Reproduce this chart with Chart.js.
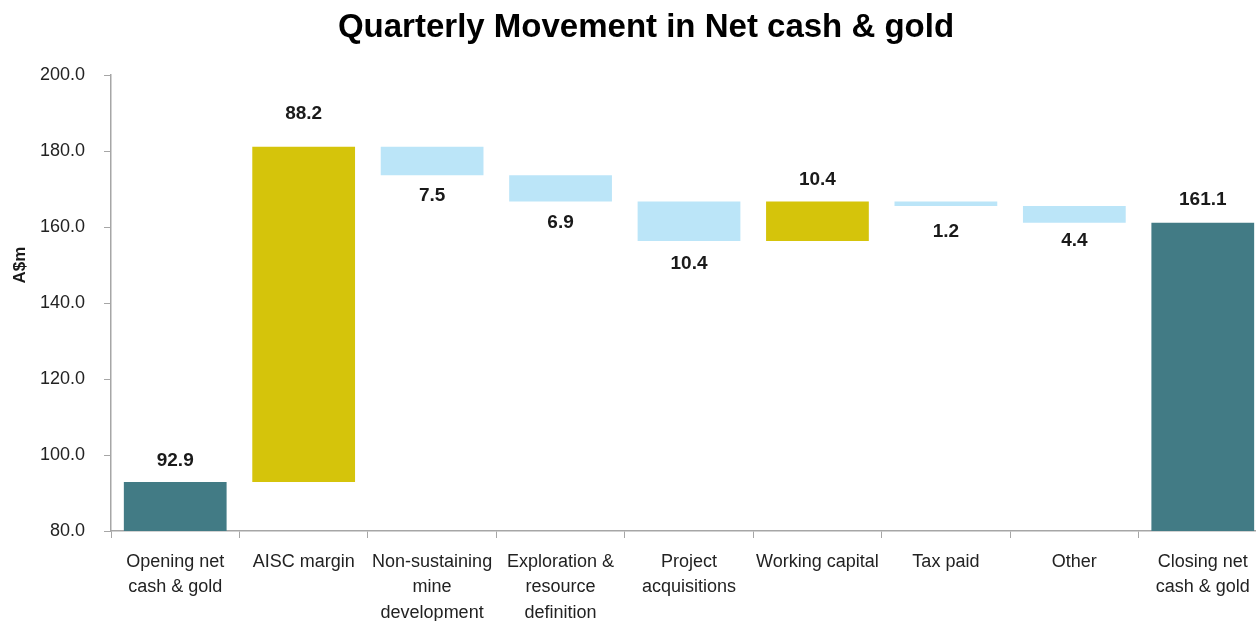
<!DOCTYPE html>
<html><head><meta charset="utf-8">
<script src="https://cdn.jsdelivr.net/npm/chart.js@4.4.1/dist/chart.umd.min.js"></script>
<style>html,body{margin:0;padding:0;overflow:hidden;background:#fff;width:1256px;height:621px}canvas{display:block}</style>
</head><body><canvas id="c" width="1292" height="621"></canvas>
<script>
// ---- data ----
const categories = [["Opening net","cash & gold"],"AISC margin",["Non-sustaining","mine","development"],["Exploration &","resource","definition"],["Project","acquisitions"],"Working capital","Tax paid","Other",["Closing net","cash & gold"]];
const openingValue = 92.9;
const movements = [88.2, -7.5, -6.9, -10.4, 10.4, -1.2, -4.4];
const closingValue = 161.1;
const yMin = 80, yMax = 200, yStep = 20;
const yAxisTitle = "A$m";
const chartTitle = "Quarterly Movement in Net cash & gold";

// ---- build waterfall ----
const FONT = '"Liberation Sans", Arial, sans-serif';
const COL_TOTAL = '#427B85', COL_UP = '#D5C40B', COL_DOWN = '#BBE5F8';
const ranges = [], kinds = [], labels = [];
ranges.push([0, openingValue]); kinds.push('total'); labels.push(openingValue.toFixed(1));
let run = openingValue;
movements.forEach(m => { const next = +(run + m).toFixed(1); ranges.push([run, next]); kinds.push(m >= 0 ? 'up' : 'down'); labels.push(Math.abs(m).toFixed(1)); run = next; });
ranges.push([0, closingValue]); kinds.push('total'); labels.push(closingValue.toFixed(1));
const colors = kinds.map(k => k === 'total' ? COL_TOTAL : (k === 'up' ? COL_UP : COL_DOWN));
const labelOffsets = [21, 33, 20, 21, 23, 22, 26, 18, 23];

const labelPlugin = {
  id: 'wfLabels',
  afterDatasetsDraw(chart) {
    const ctx = chart.ctx, meta = chart.getDatasetMeta(0);
    ctx.save();
    ctx.font = 'bold 19px ' + FONT; ctx.fillStyle = '#1a1a1a';
    ctx.textAlign = 'center'; ctx.textBaseline = 'middle';
    meta.data.forEach((bar, i) => {
      const top = Math.min(bar.y, bar.base), bottom = Math.max(bar.y, bar.base);
      const y = kinds[i] === 'down' ? bottom + labelOffsets[i] : top - labelOffsets[i];
      ctx.fillText(labels[i], bar.x, y);
    });
    // chart title
    ctx.font = 'bold 33px ' + FONT; ctx.fillStyle = '#000';
    ctx.fillText(chartTitle, 646, 28);
    // y axis title
    const ys = chart.scales.y;
    ctx.translate(20, ys.getPixelForValue(150));
    ctx.rotate(-Math.PI / 2);
    ctx.font = 'bold 17px ' + FONT; ctx.fillStyle = '#1a1a1a';
    ctx.fillText(yAxisTitle, 0, 0);
    ctx.restore();
  }
};

new Chart(document.getElementById('c'), {
  type: 'bar',
  data: { labels: categories, datasets: [{ data: ranges, backgroundColor: colors, borderWidth: 0, barPercentage: 0.8, categoryPercentage: 1.0 }] },
  options: {
    responsive: false, animation: false,
    layout: { padding: { left: 0, right: 25, top: 75, bottom: 0 } },
    plugins: { legend: { display: false }, tooltip: { enabled: false }, title: { display: false } },
    scales: {
      x: {
        grid: { display: true, drawOnChartArea: false, tickLength: 7, color: '#A6A6A6', offset: true },
        border: { display: true, color: '#A6A6A6', width: 1.5 },
        ticks: { color: '#222', font: { family: FONT, size: 18, lineHeight: 1.42 }, padding: 11, maxRotation: 0, autoSkip: false },
        afterFit(s) { s.height = 90; }
      },
      y: {
        min: yMin, max: yMax,
        grid: { display: true, drawOnChartArea: false, tickLength: 7, color: '#A6A6A6' },
        border: { display: true, color: '#A6A6A6', width: 1.5 },
        ticks: { stepSize: yStep, color: '#222', font: { family: FONT, size: 18 }, padding: 19, callback: v => Number(v).toFixed(1) },
        afterFit(s) { s.width = 111; }
      }
    }
  },
  plugins: [labelPlugin]
});
</script>
</body></html>
